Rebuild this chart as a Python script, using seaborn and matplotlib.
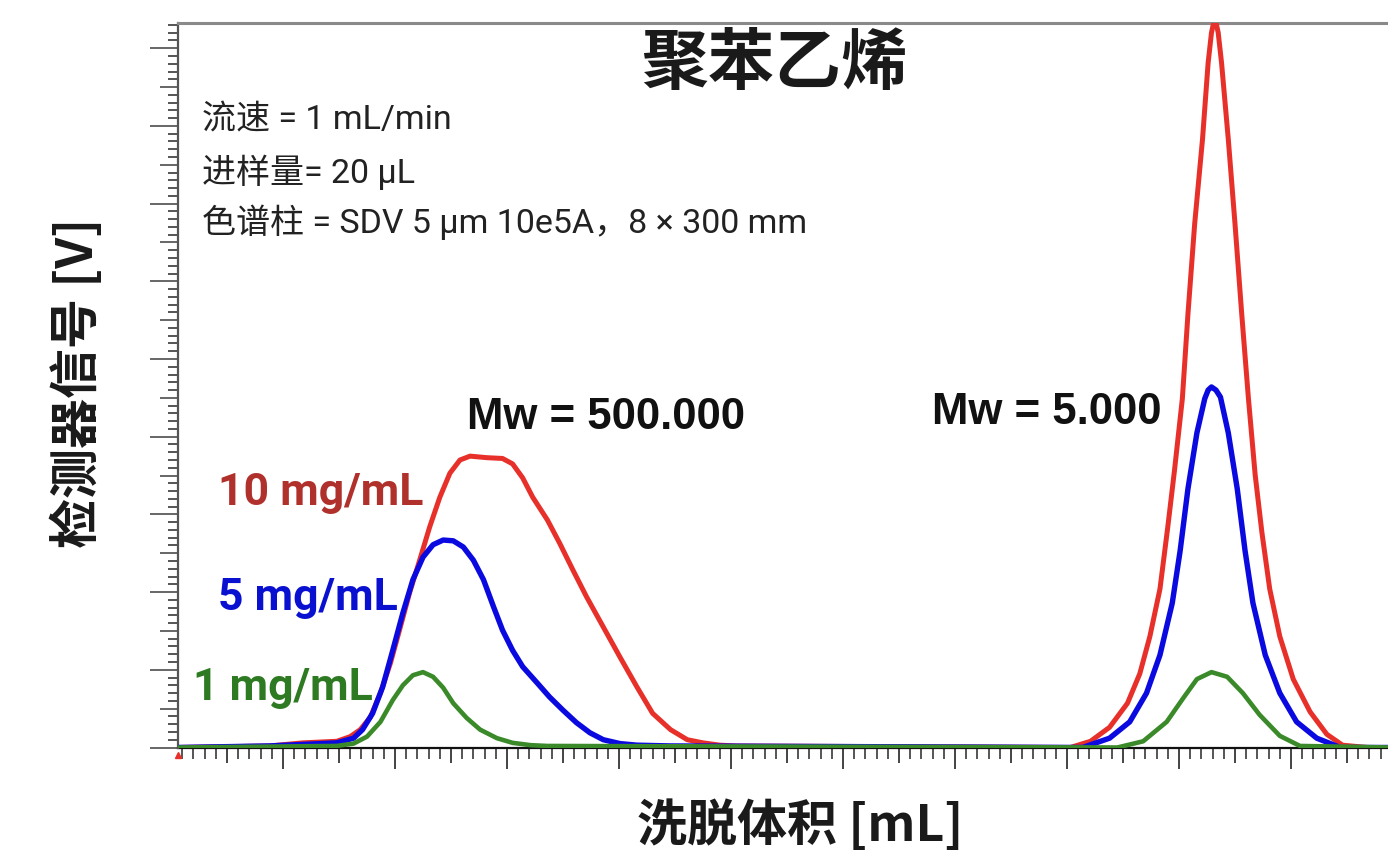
import numpy as np
import pandas as pd
import seaborn as sns
import matplotlib
matplotlib.use("Agg")
import matplotlib.pyplot as plt
from matplotlib.ticker import MultipleLocator

# ---------------- data (elution volume [mL] vs detector signal [V]) ----------------
red_x = [4.06, 4.88, 5.18, 5.48, 5.60, 5.69, 5.78, 5.87, 5.96, 6.04, 6.13, 6.22, 6.31, 6.40,
         6.49, 6.58, 6.67, 6.82, 6.96, 7.05, 7.14, 7.23, 7.36, 7.47, 7.59, 7.71, 7.86, 8.01,
         8.16, 8.30, 8.46, 8.61, 8.75, 8.90, 9.05,
         12.03, 12.21, 12.38, 12.54, 12.65, 12.74, 12.83, 12.90, 12.96, 13.03, 13.08, 13.14,
         13.21, 13.26, 13.29, 13.32, 13.35, 13.38, 13.44, 13.50, 13.56, 13.62, 13.68, 13.74,
         13.81, 13.90, 14.02, 14.17, 14.32, 14.46, 14.68, 14.90]
red_y = [0.00, 0.02, 0.06, 0.08, 0.14, 0.23, 0.39, 0.70, 1.09, 1.51, 1.99, 2.41, 2.84, 3.22,
         3.53, 3.70, 3.75, 3.73, 3.72, 3.65, 3.47, 3.22, 2.93, 2.63, 2.28, 1.94, 1.55, 1.16,
         0.78, 0.44, 0.23, 0.10, 0.06, 0.03, 0.02,
         0.00, 0.08, 0.26, 0.57, 0.95, 1.43, 2.04, 2.84, 3.57, 4.49, 5.58, 6.74,
         7.83, 8.81, 9.20, 9.40, 9.20, 8.81, 7.83, 6.74, 5.58, 4.49, 3.51, 2.77,
         2.04, 1.43, 0.88, 0.46, 0.17, 0.03, 0.00, 0.00]

blue_x = [4.06, 4.88, 5.48, 5.63, 5.71, 5.80, 5.89, 5.98, 6.07, 6.16, 6.25, 6.34, 6.43, 6.52,
          6.61, 6.70, 6.79, 6.88, 6.96, 7.05, 7.14, 7.27, 7.38, 7.50, 7.62, 7.74, 7.86, 8.01,
          8.16, 8.46,
          12.14, 12.38, 12.56, 12.71, 12.83, 12.94, 13.01, 13.08, 13.16, 13.23, 13.26, 13.29,
          13.33, 13.37, 13.44, 13.52, 13.59, 13.66, 13.77, 13.90, 14.05, 14.23, 14.44, 14.90]
blue_y = [0.00, 0.02, 0.06, 0.12, 0.23, 0.44, 0.78, 1.25, 1.73, 2.16, 2.45, 2.61, 2.67, 2.66,
          2.58, 2.41, 2.16, 1.81, 1.51, 1.25, 1.04, 0.83, 0.65, 0.48, 0.32, 0.19, 0.10, 0.05,
          0.03, 0.02,
          0.00, 0.12, 0.33, 0.70, 1.19, 1.86, 2.53, 3.33, 4.05, 4.49, 4.60, 4.64,
          4.60, 4.51, 4.05, 3.33, 2.53, 1.86, 1.19, 0.70, 0.33, 0.12, 0.00, 0.00]

green_x = [4.06, 5.48, 5.63, 5.75, 5.87, 5.98, 6.07, 6.16, 6.25, 6.34, 6.43, 6.52, 6.64, 6.76,
           6.91, 7.05, 7.21, 7.36,
           12.45, 12.68, 12.89, 13.04, 13.16, 13.29, 13.43, 13.57, 13.72, 13.90, 14.08, 14.90]
green_y = [0.00, 0.02, 0.05, 0.14, 0.33, 0.61, 0.80, 0.93, 0.97, 0.91, 0.77, 0.57, 0.38, 0.23,
           0.12, 0.06, 0.03, 0.02,
           0.00, 0.08, 0.33, 0.64, 0.88, 0.97, 0.91, 0.70, 0.42, 0.15, 0.02, 0.00]

series_names = ["10 mg/mL", "5 mg/mL", "1 mg/mL"]
line_colors = ["#e8302a", "#0a0ae0", "#3a8a2a"]
label_colors = ["#b0302c", "#0a10d0", "#2e7a22"]

title = "聚苯乙烯"
info_lines = ["流速 = 1 mL/min", "进样量= 20 µL", "色谱柱 = SDV 5 µm 10e5A，8 × 300 mm"]
mw_labels = ["Mw = 500.000", "Mw = 5.000"]
xlabel = "洗脱体积 [mL]"
ylabel = "检测器信号 [V]"

# ---------------- figure ----------------
sns.set_style("white")
plt.rcParams["font.family"] = ["Roboto", "Noto Sans CJK SC", "DejaVu Sans"]

W, H = 1388, 851
fig = plt.figure(figsize=(W / 100, H / 100), dpi=100)
ax = fig.add_axes([178 / W, (H - 747.5) / H, (W - 178) / W, (747.5 - 23) / H])

frames = []
for name, xs, ys in zip(series_names, [red_x, blue_x, green_x], [red_y, blue_y, green_y]):
    frames.append(pd.DataFrame({"vol": xs, "signal": ys, "conc": name}))
df = pd.concat(frames, ignore_index=True)

widths = [3.6, 3.9, 3.3]
for name, col, lw in zip(series_names, line_colors, widths):
    sub = df[df["conc"] == name]
    sns.lineplot(data=sub, x="vol", y="signal", color=col, linewidth=lw, sort=False,
                 estimator=None, ax=ax, legend=False, zorder=3,
                 solid_capstyle="round", solid_joinstyle="round")

ax.set_xlim(4.0625, 4.0625 + (W - 178) / 112)
ax.set_ylim(0, (747.5 - 23) / 77.7)

# spines
ax.spines["right"].set_visible(False)
ax.spines["top"].set_color("#8a8a8a")
ax.spines["top"].set_linewidth(2.2)
ax.spines["bottom"].set_color("#111111")
ax.spines["bottom"].set_linewidth(1.6)
ax.spines["left"].set_color("#555555")
ax.spines["left"].set_linewidth(1.6)
ax.spines["bottom"].set_zorder(2)

# ticks
ax.xaxis.set_major_locator(MultipleLocator(0.5))
ax.xaxis.set_minor_locator(MultipleLocator(0.1))
ax.yaxis.set_major_locator(MultipleLocator(0.5))
ax.yaxis.set_minor_locator(MultipleLocator(0.1))
ax.tick_params(axis="both", which="both", direction="out", labelbottom=False, labelleft=False,
               bottom=True, left=True, top=False, right=False)
ax.tick_params(axis="x", which="major", length=15, width=1.4, color="#444444")
ax.tick_params(axis="x", which="minor", length=8, width=1.4, color="#555555")
ax.tick_params(axis="y", which="major", length=20, width=1.4, color="#666666")
ax.tick_params(axis="y", which="minor", length=7, width=1.4, color="#555555")
ax.set_xlabel("")
ax.set_ylabel("")

# make half-unit major ticks shorter (medium ticks)
for axis, full, half in [(ax.xaxis, 15, 11), (ax.yaxis, 20, 13)]:
    locs = axis.get_majorticklocs()
    ticks = axis.get_major_ticks(len(locs))
    for t, loc in zip(ticks, locs):
        if abs(loc - round(loc)) > 1e-6:
            t.tick1line.set_markersize(half)
        else:
            t.tick1line.set_markersize(full)

# origin marker
ax.plot([ax.get_xlim()[0]], [-0.1], marker="^", color="#e8302a", markersize=5,
        clip_on=False, zorder=5)

# ---------------- texts ----------------
def fx(px):
    return px / W

def fy(py):
    return 1 - py / H

fig.text(fx(774), fy(65), title, ha="center", va="center", fontsize=48, fontweight="bold",
         family=["Noto Sans CJK SC"], color="#1a1a1a")

for line, py in zip(info_lines, [120, 172, 222]):
    fig.text(fx(202), fy(py), line, ha="left", va="center", fontsize=24.5,
             family=["Roboto", "Noto Sans CJK SC", "DejaVu Sans"], color="#222222")

fig.text(fx(467), fy(418), mw_labels[0], ha="left", va="center", fontsize=31.5,
         fontweight="bold", family=["Liberation Sans"], color="#111111")
fig.text(fx(932), fy(412), mw_labels[1], ha="left", va="center", fontsize=31.5,
         fontweight="bold", family=["Liberation Sans"], color="#111111")

for name, col, px, py in zip(series_names, label_colors, [218, 218, 193], [493, 598, 688]):
    fig.text(fx(px), fy(py), name, ha="left", va="center", fontsize=32, fontweight="bold",
             family=["Roboto"], color=col)

fig.text(fx(800), fy(826), xlabel, ha="center", va="center", fontsize=36, fontweight="bold",
         family=["Noto Sans CJK SC"], color="#1a1a1a")
fig.text(fx(78), fy(383), ylabel, ha="center", va="center", rotation=90, fontsize=36,
         fontweight="bold", family=["Noto Sans CJK SC"], color="#1a1a1a")

fig.savefig("out.png", dpi=100)
